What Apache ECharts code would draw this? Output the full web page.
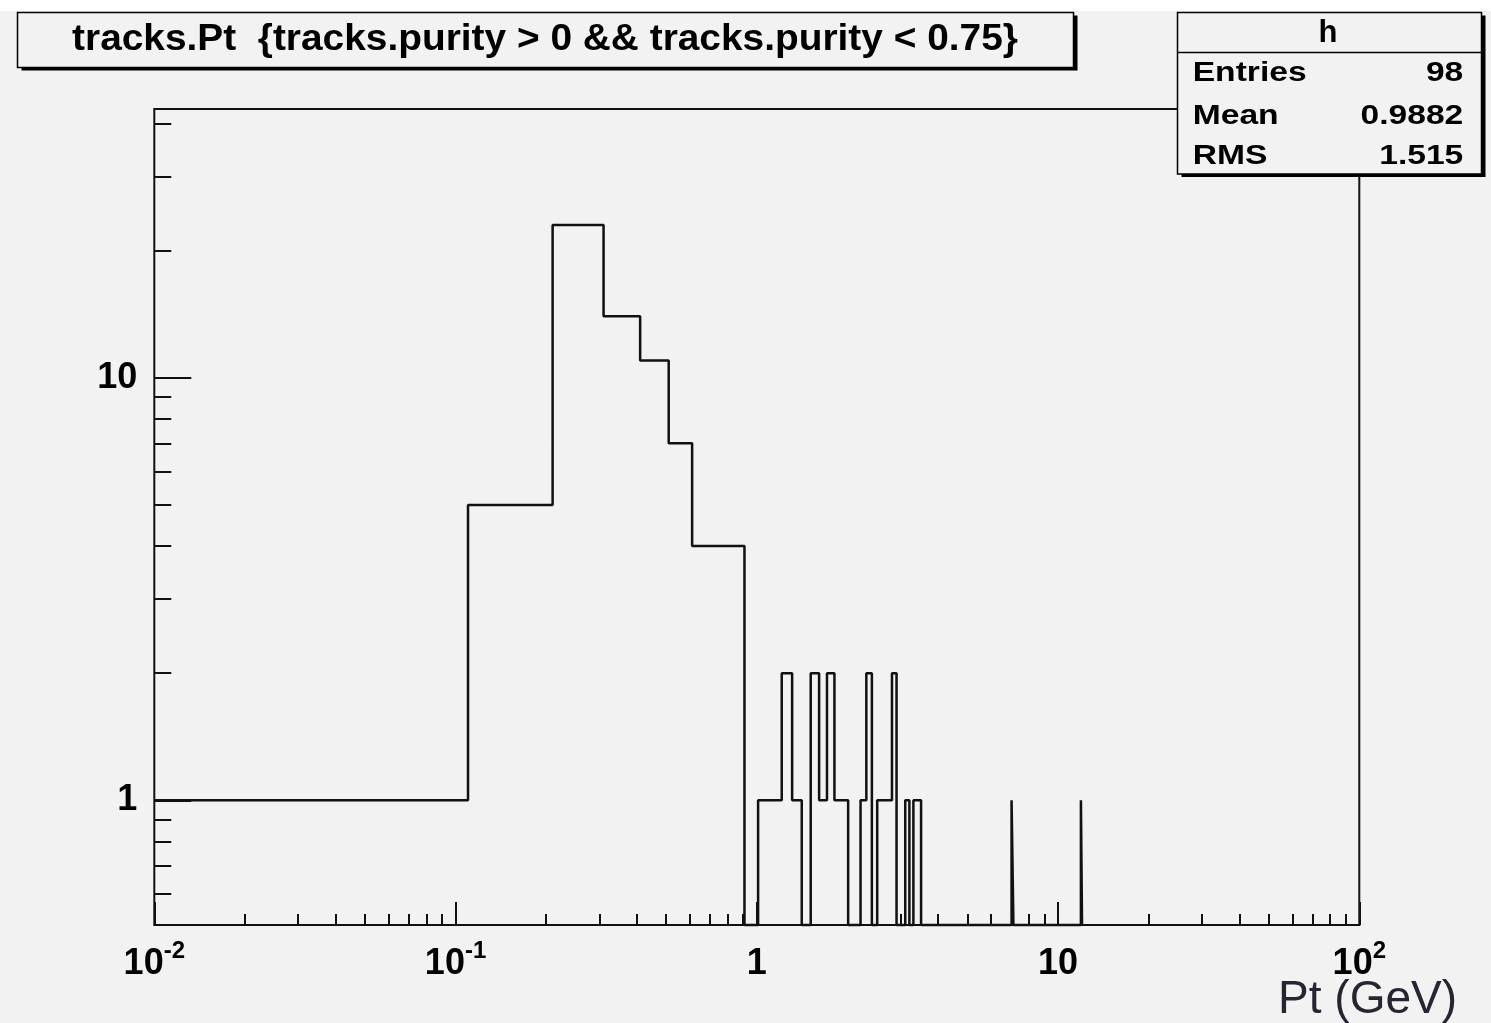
<!DOCTYPE html>
<html>
<head>
<meta charset="utf-8">
<title>tracks.Pt</title>
<script src="https://cdn.jsdelivr.net/npm/echarts@6/dist/echarts.min.js"></script>
<style>
  html, body { margin: 0; padding: 0; background: #ffffff; }
  #chart { width: 1491px; height: 1023px; }
</style>
</head>
<body>
<div id="chart"></div>
<script>
// Histogram "h": fixed 0.1 GeV bins whose first lower edge is Pt = 0.01
const BIN_ORIGIN = 0.01;
const BIN_WIDTH = 0.1;
// entries of bins 0..34 (Pt 0.01 - 3.51 GeV)
const lowCounts = [1, 5, 23, 14, 11, 7, 4, 4, 4, 0,
                   1, 1, 2, 1, 0, 2, 1, 2, 1, 1,
                   0, 0, 1, 2, 0, 1, 1, 1, 2, 0,
                   0, 1, 0, 1, 1];
// isolated high-Pt bins (bin index, entries)
const tailBins = [70, 119];
const tailCounts = [1, 1];

// axis ranges
const X_MIN = 0.01, X_MAX = 100;
const Y_MIN = 0.507, Y_MAX = 43.3;

// labelled (major) and unlabelled (minor) tick positions
const xTickLabels = [0.01, 0.1, 1, 10, 100];
const xMinorTicks = [0.02, 0.03, 0.04, 0.05, 0.06, 0.07, 0.08, 0.09,
                     0.2, 0.3, 0.4, 0.5, 0.6, 0.7, 0.8, 0.9,
                     2, 3, 4, 5, 6, 7, 8, 9,
                     20, 30, 40, 50, 60, 70, 80, 90];
const yTickLabels = [1, 10];
const yMinorTicks = [0.6, 0.7, 0.8, 0.9, 2, 3, 4, 5, 6, 7, 8, 9, 20, 30, 40];

// statistics box
const statTitle = 'h';
const statNames = ['Entries', 'Mean', 'RMS'];
const statValues = ['98', '0.9882', '1.515'];

const histTitle = 'tracks.Pt  {tracks.purity > 0 && tracks.purity < 0.75}';
const xTitle = 'Pt (GeV)';

// ---- outline of the histogram (ROOT style, empty bins fall to the frame floor)
const bins = lowCounts.map((c, i) => [i, c]);
tailBins.forEach((b, i) => bins.push([b, tailCounts[i]]));
const edge = k => BIN_ORIGIN + BIN_WIDTH * k;
const outline = [];
let prevHi = null;
bins.forEach(([k, c]) => {
  const lo = edge(k), hi = edge(k + 1);
  const v = c > 0 ? c : Y_MIN;
  if (prevHi !== null && Math.abs(prevHi - lo) > 1e-9) {
    outline.push([prevHi, Y_MIN]);
    outline.push([lo, Y_MIN]);
  }
  outline.push([lo, v]);
  outline.push([hi, v]);
  prevHi = hi;
});
outline.push([prevHi, Y_MIN]);

const FONT = '"Liberation Sans", Arial, Helvetica, sans-serif';
const INK = '#111111';
const BG = '#f2f2f2';

function xLabel(v) {
  const e = Math.round(Math.log10(v));
  if (e === 0) return '{b|1}';
  if (e === 1) return '{b|10}';
  return '{b|10}{s|' + e + '}';
}

// ---- boxes with ROOT drop shadow
function shadowBox(x, y, w, h) {
  return [
    { type: 'rect', shape: { x: x + 4, y: y + 3, width: w, height: h },
      style: { fill: '#000' }, silent: true },
    { type: 'rect', shape: { x: x, y: y, width: w, height: h },
      style: { fill: BG, stroke: '#000', lineWidth: 1.5 }, silent: true }
  ];
}
function label(text, x, y, size, align, sx, weight, color) {
  return {
    type: 'text', x: x, y: y, scaleX: sx, silent: true,
    style: { text: text, x: 0, y: 0, font: (weight || 'bold') + ' ' + size + 'px ' + FONT,
             fill: color || '#000', align: align, verticalAlign: 'middle' }
  };
}

const graphics = [
  { type: 'rect', shape: { x: 0, y: 0, width: 1491, height: 11 }, style: { fill: '#fff' }, silent: true },
  ...shadowBox(17.5, 12.5, 1056, 55),
  label(histTitle, 545, 40, 37, 'center', 1.05),
  ...shadowBox(1177.5, 12.5, 304, 161.5),
  { type: 'line', shape: { x1: 1177.5, y1: 52.5, x2: 1481.5, y2: 52.5 },
    style: { stroke: '#000', lineWidth: 1.5 }, silent: true },
  label(statTitle, 1328, 33.5, 31, 'center', 1.0),
  // x axis title under the right end of the frame
  label(xTitle, 1457, 1000, 46, 'right', 1.0, 'normal', '#262633')
];
const statRowY = [73, 116, 156];
statNames.forEach((n, i) => {
  graphics.push(label(n, 1192.7, statRowY[i], 28, 'left', 1.2));
  graphics.push(label(statValues[i], 1463.3, statRowY[i], 28, 'right', 1.2));
});

const tickStyle = { color: INK, width: 2 };

const option = {
  backgroundColor: BG,
  animation: false,
  grid: { left: 154.3, right: 131.7, top: 109, bottom: 98, show: true,
          containLabel: false, outerBoundsMode: 'none',
          borderColor: INK, borderWidth: 2, backgroundColor: 'transparent' },
  xAxis: [
    {
      type: 'log', logBase: 10, min: X_MIN, max: X_MAX, position: 'bottom',
      axisLine: { show: false }, splitLine: { show: false },
      axisTick: { inside: true, length: 23, customValues: xTickLabels, lineStyle: tickStyle },
      axisLabel: {
        customValues: xTickLabels, margin: 21, formatter: xLabel,
        rich: {
          b: { fontFamily: FONT, fontWeight: 'bold', fontSize: 36, lineHeight: 36, color: '#000' },
          s: { fontFamily: FONT, fontWeight: 'bold', fontSize: 24, lineHeight: 16,
               padding: [0, 0, 26, 0], color: '#000' }
        }
      }
    },
    {
      type: 'log', logBase: 10, min: X_MIN, max: X_MAX, position: 'bottom',
      axisLine: { show: false }, splitLine: { show: false }, axisLabel: { show: false },
      axisTick: { inside: true, length: 11, customValues: xMinorTicks, lineStyle: tickStyle }
    }
  ],
  yAxis: [
    {
      type: 'log', logBase: 10, min: Y_MIN, max: Y_MAX, position: 'left',
      axisLine: { show: false }, splitLine: { show: false },
      axisTick: { inside: true, length: 37, customValues: yTickLabels, lineStyle: tickStyle },
      axisLabel: { customValues: yTickLabels, margin: 17, fontFamily: FONT, fontWeight: 'bold',
                   fontSize: 36, color: '#000' }
    },
    {
      type: 'log', logBase: 10, min: Y_MIN, max: Y_MAX, position: 'left',
      axisLine: { show: false }, splitLine: { show: false }, axisLabel: { show: false },
      axisTick: { inside: true, length: 17, customValues: yMinorTicks, lineStyle: tickStyle }
    }
  ],
  series: [{
    type: 'line', xAxisIndex: 0, yAxisIndex: 0, data: outline,
    showSymbol: false, symbol: 'none', clip: false,
    lineStyle: { color: INK, width: 2.5 }, z: 3
  }],
  graphic: graphics
};

const chart = echarts.init(document.getElementById('chart'), null, { renderer: 'canvas' });
chart.setOption(option);
</script>
</body>
</html>
